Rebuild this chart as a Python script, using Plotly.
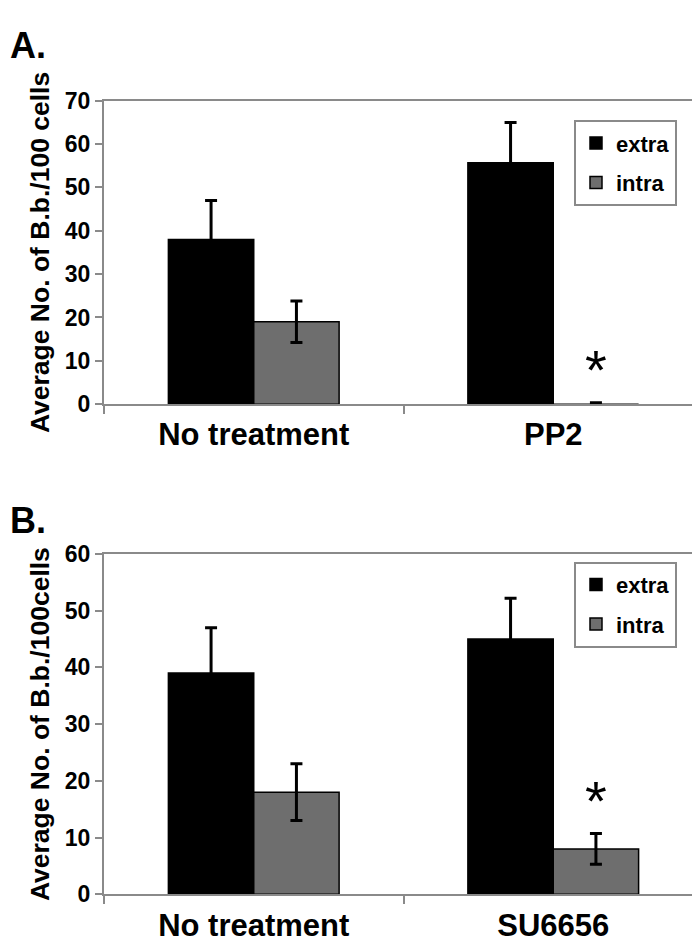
import plotly.graph_objects as go

# ---- data ----
categories_a = ["No treatment", "PP2"]
extra_a = [38, 55.7]
extra_a_err = [9, 9.3]
intra_a = [19, 0]
intra_a_err = [4.8, 0.3]

categories_b = ["No treatment", "SU6656"]
extra_b = [39, 45]
extra_b_err = [8, 7.2]
intra_b = [18, 8]
intra_b_err = [5, 2.7]

ytitle_a = "Average No. of B.b./100 cells"
ytitle_b = "Average No. of B.b./100cells"
range_a = [0, 70]
range_b = [0, 60]
series_names = ["extra", "intra"]

# ---- style ----
W, H = 700, 946
FONT = "Liberation Sans, Arial, sans-serif"
BLACK = "#000000"
GREY = "#6e6e6e"
AXIS = "#8a8a8a"

def err(vals):
    return dict(type="data", array=vals, visible=True, color=BLACK,
                thickness=3, width=6)

fig = go.Figure()
fig.add_trace(go.Bar(x=categories_a, y=extra_a, name=series_names[0],
                     marker=dict(color=BLACK, line=dict(color=BLACK, width=1.5)),
                     error_y=err(extra_a_err), xaxis="x", yaxis="y",
                     legend="legend", legendgroup="a1"))
fig.add_trace(go.Bar(x=categories_a, y=intra_a, name=series_names[1],
                     marker=dict(color=GREY, line=dict(color=BLACK, width=1.5)),
                     error_y=err(intra_a_err), xaxis="x", yaxis="y",
                     legend="legend", legendgroup="a2"))
fig.add_trace(go.Bar(x=categories_b, y=extra_b, name=series_names[0],
                     marker=dict(color=BLACK, line=dict(color=BLACK, width=1.5)),
                     error_y=err(extra_b_err), xaxis="x2", yaxis="y2",
                     legend="legend2", legendgroup="b1"))
fig.add_trace(go.Bar(x=categories_b, y=intra_b, name=series_names[1],
                     marker=dict(color=GREY, line=dict(color=BLACK, width=1.5)),
                     error_y=err(intra_b_err), xaxis="x2", yaxis="y2",
                     legend="legend2", legendgroup="b2"))

xdom = [96 / W, 695 / W]
ydom_a = [1 - 394 / H, 1 - 82 / H]
ydom_b = [1 - 898 / H, 1 - 548 / H]

def xaxis(anchor):
    return dict(domain=xdom, anchor=anchor, showline=True, linecolor=AXIS,
                linewidth=2, mirror=True, ticks="outside", tickson="boundaries",
                ticklen=8, tickwidth=2, tickcolor=AXIS, showgrid=False,
                tickfont=dict(family=FONT, size=31, color=BLACK, weight="bold"),
                ticklabelstandoff=2)

def yaxis(anchor, dom, rng, title):
    return dict(domain=dom, anchor=anchor, range=rng, dtick=10,
                showline=True, linecolor=AXIS, linewidth=2, mirror=True,
                ticks="outside", ticklen=7, tickwidth=2, tickcolor=AXIS,
                showgrid=False, zeroline=False,
                tickfont=dict(family=FONT, size=23, color=BLACK, weight="bold"),
                title=dict(text=title, standoff=8,
                           font=dict(family=FONT, size=26.5, color=BLACK, weight="bold")))

def legend(ytop):
    return dict(x=566 / W, y=ytop, xanchor="left", yanchor="top",
                bordercolor=AXIS, borderwidth=2, bgcolor="white",
                font=dict(family=FONT, size=22, color=BLACK, weight="bold"),
                tracegroupgap=8, itemwidth=30)

fig.update_layout(
    width=W, height=H, margin=dict(l=0, r=0, t=0, b=0),
    paper_bgcolor="white", plot_bgcolor="white",
    barmode="group", bargap=0.43, bargroupgap=0,
    font=dict(family=FONT, color=BLACK),
    xaxis=xaxis("y"), yaxis=yaxis("x", ydom_a, range_a, ytitle_a),
    xaxis2=xaxis("y2"), yaxis2=yaxis("x2", ydom_b, range_b, ytitle_b),
    legend=legend(1 - 102 / H), legend2=legend(1 - 556 / H),
    annotations=[
        dict(text="A.", x=0, y=1 - 2 / H, xref="paper", yref="paper",
             xanchor="left", yanchor="top", showarrow=False,
             font=dict(family=FONT, size=36, color=BLACK, weight="bold")),
        dict(text="B.", x=0, y=1 - 490 / H, xref="paper", yref="paper",
             xanchor="left", yanchor="top", showarrow=False,
             font=dict(family=FONT, size=36, color=BLACK, weight="bold")),
        dict(text="*", x=categories_a[1], y=intra_a[1] + intra_a_err[1], xref="x", yref="y",
             xshift=43, yshift=0, yanchor="bottom", showarrow=False,
             font=dict(family=FONT, size=56, color=BLACK)),
        dict(text="*", x=categories_b[1], y=intra_b[1] + intra_b_err[1], xref="x2", yref="y2",
             xshift=43, yshift=0, yanchor="bottom", showarrow=False,
             font=dict(family=FONT, size=56, color=BLACK)),
    ],
)

fig.write_html("out.html")
